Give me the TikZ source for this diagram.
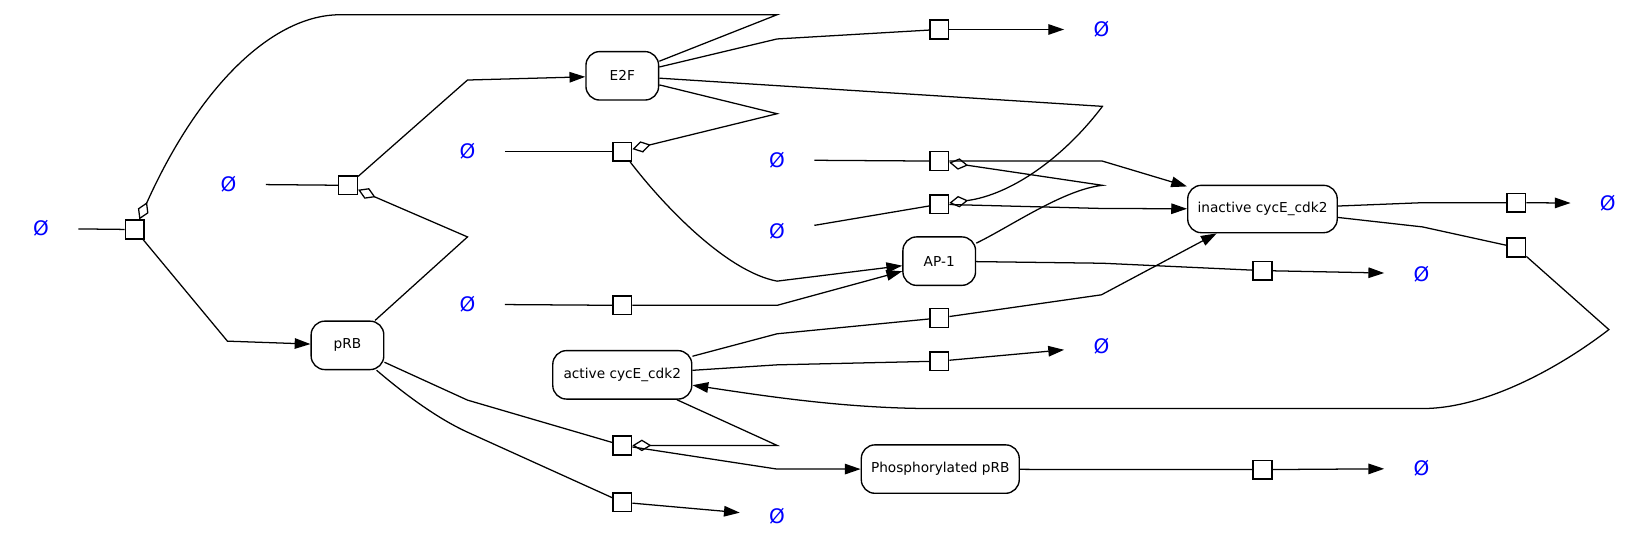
\documentclass[tikz,border=0pt]{standalone}
\usepackage{fontspec}
\setmainfont{DejaVu Sans}
\usetikzlibrary{arrows.meta}
\begin{document}
\begin{tikzpicture}[x=0.5pt,y=-0.5pt,
  species/.style={draw, line width=0.65pt, rounded corners=6.5pt, fill=white, inner sep=0pt, font=\fontsize{6.5}{8}\selectfont},
  proc/.style={draw, line width=0.7pt, fill=white, minimum size=8.9pt, inner sep=0pt},
  emptyset/.style={text={rgb,255:red,0;green,0;blue,255}, minimum width=35pt, minimum height=10pt, inner sep=0pt, font=\fontsize{9.5}{11}\selectfont},
  link/.style={line width=0.6pt},
  prod/.style={link, -{Triangle[length=7.5pt,width=5pt]}},
  modif/.style={link, -{Diamond[open,length=9pt,width=5.5pt]}}
]
\useasboundingbox (0,0) rectangle (1568,520);

% empty sets
\node[emptyset] (e1) at (39,217) {Ø};
\node[emptyset] (e2) at (217,175) {Ø};
\node[emptyset] (e3) at (444,144) {Ø};
\node[emptyset] (e4) at (444,289) {Ø};
\node[emptyset] (e5) at (738,152) {Ø};
\node[emptyset] (e6) at (738,220) {Ø};
\node[emptyset] (e7) at (1046,28) {Ø};
\node[emptyset] (e8) at (1527,193) {Ø};
\node[emptyset] (e9) at (1350,260) {Ø};
\node[emptyset] (e10) at (1046,329) {Ø};
\node[emptyset] (e11) at (738,490) {Ø};
\node[emptyset] (e12) at (1350,445) {Ø};

% species
\node[species, minimum width=34.5pt, minimum height=23pt] (E2F) at (591,72) {E2F};
\node[species, minimum width=34.5pt, minimum height=23pt] (pRB) at (330,328) {pRB};
\node[species, minimum width=34.5pt, minimum height=23pt] (AP1) at (892,248) {AP-1};
\node[species, minimum width=71pt, minimum height=22.5pt] (inact) at (1199,198.5) {inactive cycE\_cdk2};
\node[species, minimum width=66pt, minimum height=23pt] (act) at (591,356) {active cycE\_cdk2};
\node[species, minimum width=75pt, minimum height=23pt] (phos) at (893,445.5) {Phosphorylated pRB};

% processes
\node[proc] (p1) at (128,218) {};
\node[proc] (p2) at (330.5,176) {};
\node[proc] (p3) at (591,144) {};
\node[proc] (p4) at (892,28) {};
\node[proc] (p5) at (892,153) {};
\node[proc] (p6) at (892,194) {};
\node[proc] (p7) at (591,290) {};
\node[proc] (p8) at (892,302) {};
\node[proc] (p9) at (892,343) {};
\node[proc] (p10) at (591,423) {};
\node[proc] (p11) at (591,477) {};
\node[proc] (p12) at (1199,257) {};
\node[proc] (p13) at (1199,446) {};
\node[proc] (p14) at (1440,192.5) {};
\node[proc] (p15) at (1440,235) {};

% bend points
\coordinate (b1) at (216,324);
\coordinate (t1) at (738,14);
\coordinate (t2) at (323,14);
\coordinate (b2) at (444,76);
\coordinate (b3) at (444,225);
\coordinate (b4) at (738,267);
\coordinate (b5) at (738,108);
\coordinate (b6) at (738,37);
\coordinate (b7) at (1047,101);
\coordinate (b8) at (1047,153);
\coordinate (b9) at (1047,176);
\coordinate (b10) at (1047,198);
\coordinate (b11) at (1047,250);
\coordinate (b12) at (738,290);
\coordinate (b13) at (738,317);
\coordinate (b14) at (1046,280);
\coordinate (b15) at (738,346.5);
\coordinate (b16) at (1351,215.5);
\coordinate (b17) at (1528,313);
\coordinate (b18) at (1351,388);
\coordinate (b19) at (886,388);
\coordinate (b20) at (1351,192.5);
\coordinate (b21) at (444,380);
\coordinate (b22) at (738,445.5);
\coordinate (b23) at (738,423);
\coordinate (b24) at (443,410);
\coordinate (b25) at (1046,446);

% edges
\draw[link] (e1) -- (p1);
\draw[prod] (p1) -- (b1) -- (pRB);
\draw[modif] (E2F) -- (t1) -- (t2) .. controls (260,14) and (190,80) .. (p1);
\draw[link] (e2) -- (p2);
\draw[prod] (p2) -- (b2) -- (E2F);
\draw[modif] (pRB) -- (b3) -- (p2);
\draw[link] (e3) -- (p3);
\draw[prod] (p3) .. controls (630,195) and (690,258) .. (b4) -- (AP1);
\draw[modif] (E2F) -- (b5) -- (p3);
\draw[link] (E2F) -- (b6) -- (p4);
\draw[prod] (p4) -- (e7);
\draw[modif] (E2F) -- (b7) .. controls (1010,150) and (960,185) .. (p6);
\draw[link] (e5) -- (p5);
\draw[prod] (p5) -- (b8) -- (inact);
\draw[modif] (AP1) .. controls (960,215) and (1010,180) .. (b9) -- (p5);
\draw[link] (e6) -- (p6);
\draw[prod] (p6) -- (b10) -- (inact);
\draw[link] (AP1) -- (b11) -- (p12);
\draw[prod] (p12) -- (e9);
\draw[link] (e4) -- (p7);
\draw[prod] (p7) -- (b12) -- (AP1);
\draw[link] (act) -- (b13) -- (p8);
\draw[prod] (p8) -- (b14) -- (inact);
\draw[link] (act) -- (b15) -- (p9);
\draw[prod] (p9) -- (e10);
\draw[link] (inact) -- (b16) -- (p15);
\draw[prod] (p15) -- (b17) .. controls (1480,350) and (1410,388) .. (b18) -- (b19) .. controls (800,388) and (720,375) .. (act);
\draw[link] (inact) -- (b20) -- (p14);
\draw[prod] (p14) -- (e8);
\draw[link] (pRB) -- (b21) -- (p10);
\draw[prod] (p10) -- (b22) -- (phos);
\draw[modif] (act) -- (b23) -- (p10);
\draw[link] (pRB) .. controls (385,375) and (415,397) .. (b24) -- (p11);
\draw[prod] (p11) -- (e11);
\draw[link] (phos) -- (b25) -- (p13);
\draw[prod] (p13) -- (e12);
\end{tikzpicture}
\end{document}
